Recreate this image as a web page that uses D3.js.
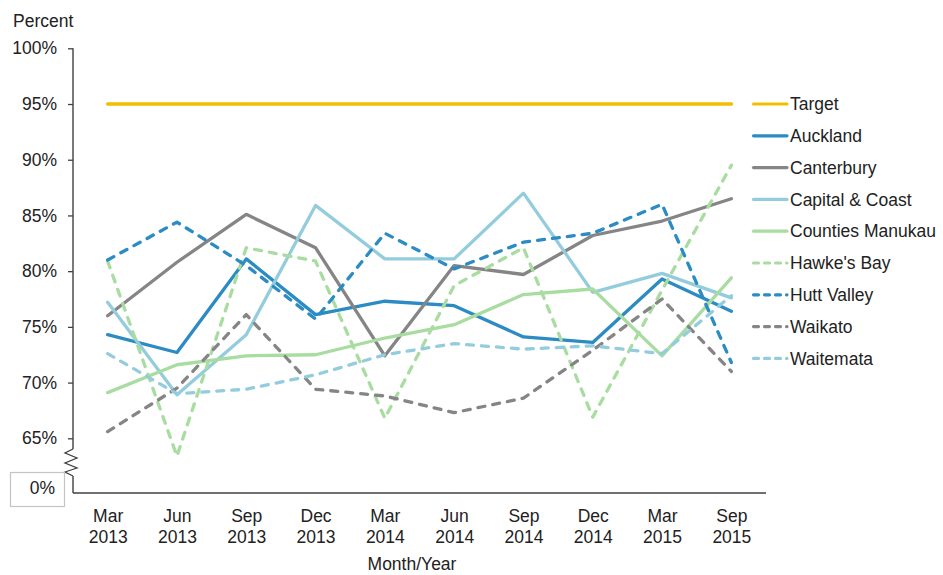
<!DOCTYPE html>
<html>
<head>
<meta charset="utf-8">
<script src="https://cdn.jsdelivr.net/npm/d3@7"></script>
<style>
  html, body { margin: 0; padding: 0; background: #fff; }
  svg { display: block; font-family: "Liberation Sans", Arial, sans-serif; }
</style>
</head>
<body>
<svg id="chart" width="943" height="575"></svg>
<script>
// Quarterly results by district, percent
const periods = [
  ["Mar", "2013"], ["Jun", "2013"], ["Sep", "2013"], ["Dec", "2013"], ["Mar", "2014"],
  ["Jun", "2014"], ["Sep", "2014"], ["Dec", "2014"], ["Mar", "2015"], ["Sep", "2015"]
];
const target          = [95, 95, 95, 95, 95, 95, 95, 95, 95, 95];
const auckland        = [74.3, 72.7, 81.1, 76.1, 77.3, 76.9, 74.1, 73.6, 79.3, 76.4];
const canterbury      = [76.0, 80.8, 85.1, 82.1, 72.4, 80.5, 79.7, 83.2, 84.5, 86.5];
const capitalCoast    = [77.2, 68.9, 74.3, 85.9, 81.1, 81.1, 87.0, 78.1, 79.8, 77.6];
const countiesManukau = [69.1, 71.6, 72.4, 72.5, 74.0, 75.2, 77.9, 78.4, 72.4, 79.4];
const hawkesBay       = [80.9, 63.4, 82.1, 80.9, 66.8, 78.7, 82.1, 66.9, 78.3, 89.5];
const huttValley      = [81.0, 84.4, 80.5, 75.7, 83.4, 80.2, 82.6, 83.4, 86.0, 71.8];
const waikato         = [65.6, 69.5, 76.1, 69.4, 68.8, 67.3, 68.6, 72.9, 77.5, 71.0];
const waitemata       = [72.6, 69.0, 69.4, 70.7, 72.5, 73.5, 73.0, 73.3, 72.6, 77.8];
const yTicks = [65, 70, 75, 80, 85, 90, 95, 100];

const series = [
  { name: "Target",           values: target,          color: "#f2bf00", dash: null },
  { name: "Auckland",         values: auckland,        color: "#2b8bc3", dash: null },
  { name: "Canterbury",       values: canterbury,      color: "#858585", dash: null },
  { name: "Capital & Coast",  values: capitalCoast,    color: "#93cddd", dash: null },
  { name: "Counties Manukau", values: countiesManukau, color: "#a8dca0", dash: null },
  { name: "Hawke's Bay",      values: hawkesBay,       color: "#a8dca0", dash: "7,8" },
  { name: "Hutt Valley",      values: huttValley,      color: "#2b8bc3", dash: "7,8" },
  { name: "Waikato",          values: waikato,         color: "#858585", dash: "7,8" },
  { name: "Waitemata",        values: waitemata,       color: "#93cddd", dash: "7,8" }
];

const svg = d3.select("#chart");
const axisX0 = 73, axisX1 = 766, baseY = 493;
const fontSize = 17.5;
const textColor = "#222";
const axisColor = "#404040";

const x = d3.scalePoint()
  .domain(periods.map(p => p.join(" ")))
  .range([axisX0, axisX1])
  .padding(0.5);

const y = d3.scaleLinear().domain([65, 100]).range([438.3, 48.3]);

// Y axis with outward ticks
const yAxis = d3.axisLeft(y).tickValues(yTicks).tickFormat(d => d + "%").tickSize(5).tickPadding(11);
const gy = svg.append("g").attr("transform", `translate(${axisX0},0)`).call(yAxis);
gy.select(".domain").remove();
gy.selectAll(".tick line").attr("stroke", axisColor).attr("stroke-width", 1.3);
gy.selectAll(".tick text").attr("fill", textColor).style("font-size", fontSize + "px")
  .style("font-family", '"Liberation Sans", Arial, sans-serif');

// Vertical axis line, broken between 65% and the zero baseline
svg.append("line").attr("x1", axisX0).attr("x2", axisX0).attr("y1", y(100)).attr("y2", 449)
  .attr("stroke", axisColor).attr("stroke-width", 1.4);
svg.append("polyline")
  .attr("points", [[73,449],[65,453],[77,458],[65,463],[77,468],[65,472],[73,476]].map(p => p.join(",")).join(" "))
  .attr("fill", "none").attr("stroke", axisColor).attr("stroke-width", 1.3);
svg.append("line").attr("x1", axisX0).attr("x2", axisX0).attr("y1", 476).attr("y2", baseY)
  .attr("stroke", axisColor).attr("stroke-width", 1.4);

// Zero label in a box
svg.append("rect").attr("x", 10.5).attr("y", 472.5).attr("width", 54).attr("height", 34)
  .attr("fill", "#fff").attr("stroke", "#c4c4c4").attr("stroke-width", 1.2);
svg.append("text").attr("x", 55).attr("y", 494).attr("text-anchor", "end")
  .attr("fill", textColor).style("font-size", fontSize + "px").text("0%");

// X axis baseline
svg.append("line").attr("x1", axisX0).attr("x2", axisX1).attr("y1", baseY).attr("y2", baseY)
  .attr("stroke", axisColor).attr("stroke-width", 1.4);

// Two-line category labels
const xAxis = d3.axisBottom(x).tickSize(0).tickFormat(() => "");
const gx = svg.append("g").attr("transform", `translate(0,${baseY})`).call(xAxis);
gx.select(".domain").remove();
gx.selectAll(".tick").each(function(d) {
  const parts = d.split(" ");
  const t = d3.select(this).select("text")
    .attr("fill", textColor).style("font-size", fontSize + "px")
    .style("font-family", '"Liberation Sans", Arial, sans-serif')
    .attr("y", 0).attr("dy", null);
  t.append("tspan").attr("x", 0).attr("y", 29).text(parts[0]);
  t.append("tspan").attr("x", 0).attr("y", 49.5).text(parts[1]);
});

// Axis titles
svg.append("text").attr("x", 13).attr("y", 27).attr("fill", textColor)
  .style("font-size", fontSize + "px").text("Percent");
svg.append("text").attr("x", 412).attr("y", 570).attr("text-anchor", "middle").attr("fill", textColor)
  .style("font-size", fontSize + "px").text("Month/Year");

// Series lines
const line = d3.line()
  .x((d, i) => x(periods[i].join(" ")))
  .y(d => y(d));

svg.append("g").selectAll("path").data(series).join("path")
  .attr("d", s => line(s.values))
  .attr("fill", "none")
  .attr("stroke", s => s.color)
  .attr("stroke-width", s => s.name === "Target" ? 3.6 : 3.3)
  .attr("stroke-linejoin", "round")
  .attr("stroke-linecap", "round")
  .attr("stroke-dasharray", s => s.dash);

// Legend
const legend = svg.append("g");
const lg = legend.selectAll("g").data(series).join("g")
  .attr("transform", (s, i) => `translate(752,${104 + i * 31.8})`);
lg.append("line").attr("x1", 1.5).attr("x2", 35).attr("y1", 0).attr("y2", 0)
  .attr("stroke", s => s.color).attr("stroke-width", 3.2)
  .attr("stroke-linecap", "round")
  .attr("stroke-dasharray", s => s.dash ? "5,6" : null);
lg.append("text").attr("x", 38).attr("y", 0).attr("dy", "0.35em")
  .attr("fill", textColor).style("font-size", fontSize + "px").text(s => s.name);
</script>
</body>
</html>
